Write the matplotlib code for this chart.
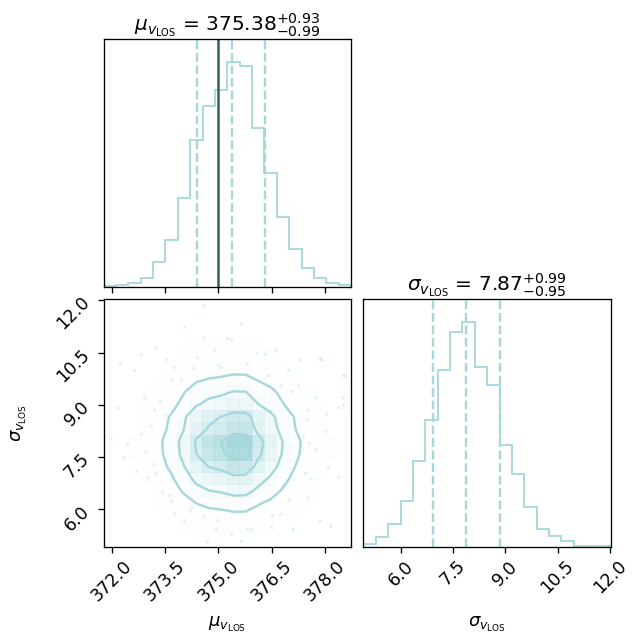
import numpy as np
import matplotlib.pyplot as plt
from matplotlib.colors import LinearSegmentedColormap

# colours
color = '#a5d7db'
truth_color = '#2f5f64'

# marginal histograms (20 bins each, relative counts)
mu_counts = [3, 5, 12, 27, 75, 140, 266, 442, 544, 590, 675, 663, 478, 342, 209, 115, 58, 27, 12, 7]
sig_counts = [8, 28, 68, 138, 256, 378, 530, 643, 673, 538, 483, 303, 218, 118, 53, 33, 18, 3, 2, 1]
mu_range = (371.77, 378.73)
sig_range = (4.93, 12.03)

# summary numbers shown in the titles
mu_med, mu_minus, mu_plus = 375.38, 0.99, 0.93
sig_med, sig_minus, sig_plus = 7.87, 0.95, 0.99
mu_truth = 375.0

mu_ticks = [372.0, 373.5, 375.0, 376.5, 378.0]
sig_ticks = [6.0, 7.5, 9.0, 10.5, 12.0]

# faint samples visible outside the outer contour
pts_mu = [374.56, 374.03, 373.24, 372.83, 372.23, 372.63, 372.16, 373.19, 373.52, 373.75,
          373.94, 374.41, 374.88, 375.07, 374.60, 372.91, 376.07, 376.30, 376.58, 377.29,
          377.85, 378.55, 376.77, 377.24, 377.71, 377.52, 378.36, 378.04, 375.64, 376.96,
          375.36, 378.50, 371.97, 372.44, 372.67, 373.00, 373.42, 373.75, 374.03, 374.60,
          374.92, 374.69, 373.19, 372.35, 373.66, 374.22, 372.82, 377.38, 377.71, 378.08,
          378.36, 377.61, 377.52, 377.85, 378.13, 376.72, 376.49, 375.93, 375.64, 377.10,
          375.36, 377.99, 378.51, 378.51, 375.23, 377.90,
          373.10, 372.95, 373.25, 373.60, 374.20, 375.00, 375.80, 376.50, 377.00, 377.45,
          377.55, 377.50, 377.05, 376.40, 375.80, 375.00, 374.30, 373.70, 373.35, 373.50]
pts_sig = [11.86, 11.22, 10.66, 10.47, 10.19, 9.99, 8.90, 8.85, 10.33, 10.09,
           9.71, 10.38, 10.57, 10.09, 10.95, 9.23, 10.52, 10.47, 10.57, 10.28,
           10.33, 9.82, 9.56, 9.56, 9.23, 8.85, 8.94, 8.75, 11.33, 9.99,
           10.85, 9.23, 8.02, 7.87, 7.11, 6.92, 6.49, 5.89, 5.68, 5.82,
           5.44, 5.10, 7.30, 7.49, 6.25, 6.06, 8.16, 8.07, 7.73, 7.21,
           6.92, 6.87, 6.35, 5.68, 5.53, 5.87, 5.49, 5.44, 5.10, 5.44,
           5.30, 8.26, 8.99, 9.85, 10.93, 10.33,
           8.40, 7.65, 7.05, 6.40, 5.95, 5.70, 5.45, 5.85, 6.30, 7.05,
           7.90, 8.60, 9.40, 9.85, 10.20, 10.15, 10.05, 9.75, 9.10, 8.70]

mu_label = r'$\mu_{v_{\rm LOS}}$'
sig_label = r'$\sigma_{v_{\rm LOS}}$'

mu_edges = np.linspace(mu_range[0], mu_range[1], len(mu_counts) + 1)
sig_edges = np.linspace(sig_range[0], sig_range[1], len(sig_counts) + 1)

fig, axes = plt.subplots(2, 2, figsize=(6.37, 6.36), dpi=100)
fig.subplots_adjust(left=0.1625, right=0.959, bottom=0.1404, top=0.938, wspace=0.05, hspace=0.05)
for ax in axes.flat:
    for s in ax.spines.values():
        s.set_linewidth(0.95)
    ax.tick_params(labelsize=12.5, width=0.95, length=4)

title_fmt = '{0} = ${1:.2f}_{{-{2:.2f}}}^{{+{3:.2f}}}$'

# top-left: mu histogram
ax = axes[0, 0]
ax.stairs(mu_counts, mu_edges, color=color, lw=1.3)
for q in [mu_med - mu_minus, mu_med, mu_med + mu_plus]:
    ax.axvline(q, color=color, ls='--', lw=1.7)
ax.axvline(mu_truth, color=truth_color, lw=1.8)
ax.set_xlim(mu_range)
ax.set_ylim(0, 1.1 * max(mu_counts))
ax.set_yticks([])
ax.set_xticks(mu_ticks)
ax.set_xticklabels([])
ax.set_title(title_fmt.format(mu_label, mu_med, mu_minus, mu_plus), fontsize=14.5)

# top-right empty
axes[0, 1].set_frame_on(False)
axes[0, 1].set_xticks([])
axes[0, 1].set_yticks([])

# bottom-right: sigma histogram
ax = axes[1, 1]
ax.stairs(sig_counts, sig_edges, color=color, lw=1.3)
for q in [sig_med - sig_minus, sig_med, sig_med + sig_plus]:
    ax.axvline(q, color=color, ls='--', lw=1.7)
ax.set_xlim(sig_range)
ax.set_ylim(0, 1.1 * max(sig_counts))
ax.set_yticks([])
ax.set_xticks(sig_ticks)
ax.set_xticklabels(['%.1f' % t for t in sig_ticks], rotation=45)
ax.set_xlabel(sig_label, fontsize=13)
ax.xaxis.set_label_coords(0.5, -0.275)
ax.set_title(title_fmt.format(sig_label, sig_med, sig_minus, sig_plus), fontsize=14.5)

# bottom-left: 2d histogram + contours
ax = axes[1, 0]
H = np.outer(mu_counts, sig_counts).astype(float)

levels = 1.0 - np.exp(-0.5 * np.arange(0.5, 2.1, 0.5) ** 2)
Hflat = np.sort(H.flatten())[::-1]
sm = np.cumsum(Hflat)
sm /= sm[-1]
V = np.array([Hflat[sm <= v0][-1] for v0 in levels])
V.sort()

X1 = 0.5 * (mu_edges[1:] + mu_edges[:-1])
Y1 = 0.5 * (sig_edges[1:] + sig_edges[:-1])
H2 = H.min() + np.zeros((H.shape[0] + 4, H.shape[1] + 4))
H2[2:-2, 2:-2] = H
H2[2:-2, 1] = H[:, 0]
H2[2:-2, -2] = H[:, -1]
H2[1, 2:-2] = H[0]
H2[-2, 2:-2] = H[-1]
H2[1, 1] = H[0, 0]
H2[1, -2] = H[0, -1]
H2[-2, 1] = H[-1, 0]
H2[-2, -2] = H[-1, -1]
X2 = np.concatenate([X1[0] + np.array([-2, -1]) * np.diff(X1[:2]), X1,
                     X1[-1] + np.array([1, 2]) * np.diff(X1[-2:])])
Y2 = np.concatenate([Y1[0] + np.array([-2, -1]) * np.diff(Y1[:2]), Y1,
                     Y1[-1] + np.array([1, 2]) * np.diff(Y1[-2:])])

ax.plot(pts_mu, pts_sig, 'o', color=color, ms=2.6, mec='none', alpha=0.3, zorder=-1)
ax.contourf(X2, Y2, H2.T, [V.min(), H.max()], colors='white', antialiased=False)
density_cmap = LinearSegmentedColormap.from_list('density_cmap', [color, (1, 1, 1, 0)])
ax.pcolor(mu_edges, sig_edges, H.max() - H.T, cmap=density_cmap)
ax.contour(X2, Y2, H2.T, V, colors=color, linewidths=1.7)

ax.set_xlim(mu_range)
ax.set_ylim(sig_range)
ax.set_xticks(mu_ticks)
ax.set_xticklabels(['%.1f' % t for t in mu_ticks], rotation=45)
ax.set_yticks(sig_ticks)
ax.set_yticklabels(['%.1f' % t for t in sig_ticks], rotation=45)
ax.set_xlabel(mu_label, fontsize=13)
ax.set_ylabel(sig_label, fontsize=13)
ax.xaxis.set_label_coords(0.5, -0.275)
ax.yaxis.set_label_coords(-0.3, 0.5)

fig.savefig('out.png', dpi=100)
